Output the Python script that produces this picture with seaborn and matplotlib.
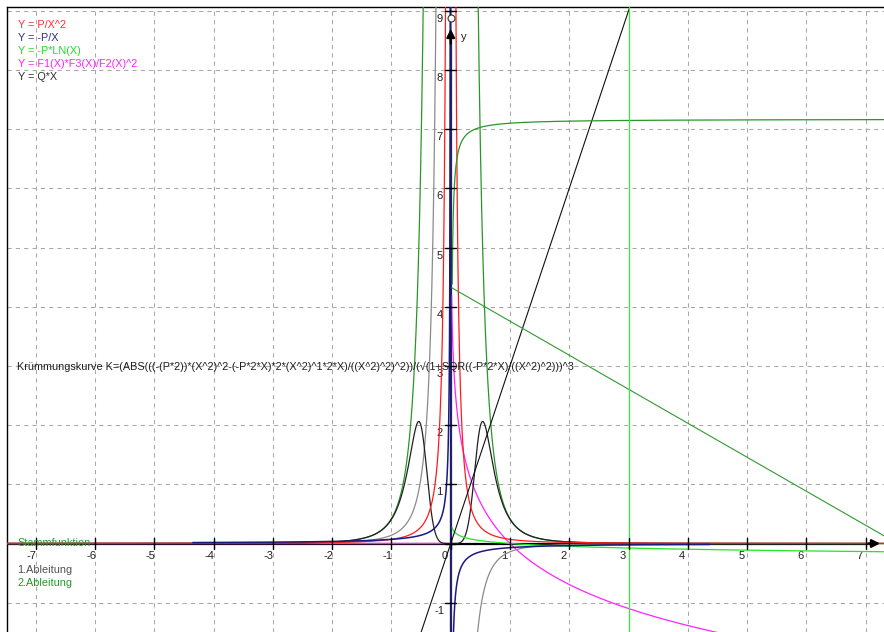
import numpy as np
import pandas as pd
import matplotlib
matplotlib.use("Agg")
import matplotlib.pyplot as plt
import seaborn as sns

# ---- parameters / values ----
P = 0.07            # parameter P
Q = 3.0             # parameter Q
C_STAMM = 7.17      # integration constant of the plotted Stammfunktion
X_MIN, X_MAX = -7.485, 7.309
Y_MIN, Y_MAX = -1.495, 9.063
BLUE_RANGE = [-4.35, 4.37]
LIME_START = 0.02
MAGENTA_START = 0.015
STAMM_START = 0.025
DIAG_X = [0.0, 7.309]
DIAG_Y = [4.33, 0.13]
VLINE_X = 3.0
x_ticks = list(range(-7, 8))
y_ticks = list(range(-1, 10))

legend_labels = ["Y = P/X^2", "Y = -P/X", "Y = -P*LN(X)", "Y = F1(X)*F3(X)/F2(X)^2", "Y = Q*X"]
legend_colors = ["#ff3030", "#303080", "#22dd22", "#ff22ff", "#303030"]
deriv_labels = ["Stammfunktion", "1.Ableitung", "2.Ableitung"]
deriv_colors = ["#2a962a", "#505050", "#2a962a"]
formula_text = ("Krümmungskurve K=(ABS(((-(P*2))*(X^2)^2-(-P*2*X)*2*(X^2)^1*2*X)/((X^2)^2)^2))"
                "/(√(1+SQR((-P*2*X)/((X^2)^2)))^3")

# ---- figure ----
sns.set_style("white")
plt.rcParams['font.family'] = ['Liberation Sans', 'DejaVu Sans']
W, H = 884, 632
fig = plt.figure(figsize=(W / 100, H / 100), dpi=100)
ax = fig.add_axes([7 / W, 0, (W - 7) / W, (H - 7) / H])
ax.set_xlim(X_MIN, X_MAX)
ax.set_ylim(Y_MIN, Y_MAX)
for s in ["right", "bottom"]:
    ax.spines[s].set_visible(False)
for s in ["left", "top"]:
    ax.spines[s].set_visible(True)
    ax.spines[s].set_color("black")
    ax.spines[s].set_linewidth(1.0)
ax.set_xticks([])
ax.set_yticks([])

# grid
for gx in x_ticks:
    if gx != 0:
        ax.axvline(gx, color="#a8a8a8", lw=0.75, dashes=(4, 4), zorder=0)
for gy in y_ticks:
    if gy != 0:
        ax.axhline(gy, color="#a8a8a8", lw=0.75, dashes=(4, 4), zorder=0)

# axes lines
ax.plot([X_MIN, 7.1], [0, 0], color="black", lw=1.6, zorder=1)
ax.plot([0, 0], [Y_MIN, 8.6], color="black", lw=1.6, zorder=1)
ax.annotate("", xy=(7.29, 0), xytext=(7.0, 0),
            arrowprops=dict(arrowstyle="-|>", color="black", lw=1.6, mutation_scale=12), zorder=6)
ax.annotate("", xy=(0, 8.74), xytext=(0, 8.4),
            arrowprops=dict(arrowstyle="-|>", color="black", lw=1.6, mutation_scale=12), zorder=6)
ax.plot([0], [8.87], marker="o", ms=5, mfc="white", mec="#333333", mew=0.8, zorder=7)
ax.text(0.17, 8.56, "y", fontsize=8, color="#202020", va="center", ha="left")

# tick marks
for t in x_ticks:
    ax.plot([t, t], [-0.1, 0.1], color="black", lw=1.0, zorder=6)
for t in y_ticks:
    ax.plot([-0.09, 0.09], [t, t], color="black", lw=1.0, zorder=6)

# tick labels
px = 59.28
py = 59.2
for t in x_ticks:
    ax.text(t - 9 / px, -12 / py, str(t), fontsize=8, color="#202020", ha="left", va="center")
for t in y_ticks:
    if t != 0:
        ax.text(-11 / px, t - 8 / py, str(t), fontsize=8, color="#202020", ha="center", va="center")

# ---- curves ----
x = np.linspace(X_MIN, X_MAX, 24000)
x = x[np.abs(x) > 1e-6]
LIM = 60.0

def draw(xv, yv, color, lw=0.9, z=3):
    df = pd.DataFrame({"x": xv, "y": np.clip(yv, -LIM, LIM)})
    sns.lineplot(data=df, x="x", y="y", ax=ax, color=color, lw=lw, estimator=None,
                 sort=False, errorbar=None, zorder=z)

# magenta -ln(x), and 0 for x<0
xn = x[x < 0]
draw(xn, np.zeros_like(xn), "#ff22ff", lw=1.0)
xm = x[x >= MAGENTA_START]
draw(xm, -np.log(xm), "#ff22ff", lw=0.9)

# 2nd derivative 6P/x^4 (green)
draw(x, 6 * P / x ** 4, "#2a962a", lw=0.9)
# 1st derivative -2P/x^3 (gray)
draw(x, -2 * P / x ** 3, "#8a8a8a", lw=0.9)
# curvature
y1 = -2 * P / x ** 3
y2 = 6 * P / x ** 4
K = np.abs(y2) / (1 + y1 ** 2) ** 1.5
draw(x, K, "#202020", lw=0.9)
# red P/x^2
draw(x, P / x ** 2, "#ff1a1a", lw=0.9)
# navy -P/x
xb = x[(x >= BLUE_RANGE[0]) & (x <= BLUE_RANGE[1])]
draw(xb, -P / xb, "#1a1a80", lw=1.1, z=4)
# lime -P ln x
xl = x[x >= LIME_START]
draw(xl, -P * np.log(xl), "#22e622", lw=0.9)
# black Q*X
draw(x, Q * x, "#101010", lw=0.8)
# Stammfunktion C - P/x
xs = x[x >= STAMM_START]
draw(xs, C_STAMM - P / xs, "#2a962a", lw=0.9)
# diagonal green line
draw(np.array(DIAG_X), np.array(DIAG_Y), "#2f9a2f", lw=0.8)
# vertical lime line
ax.axvline(VLINE_X, color="#33ee33", lw=0.9, zorder=3)

ax.set_xlabel("")
ax.set_ylabel("")
ax.set_xlim(X_MIN, X_MAX)
ax.set_ylim(Y_MIN, Y_MAX)

# ---- texts ----
def ftext(pxx, pyy, s, color, **kw):
    fig.text(pxx / W, 1 - pyy / H, s, color=color, fontsize=7.8, va="center", ha="left", **kw)

for i, (lab, col) in enumerate(zip(legend_labels, legend_colors)):
    ftext(18, 25 + 13 * i, lab, col)
ftext(17, 543, deriv_labels[0], deriv_colors[0])
ftext(17, 570, deriv_labels[1], deriv_colors[1])
ftext(17, 583, deriv_labels[2], deriv_colors[2])
ftext(17, 367, formula_text, "#202020")

fig.savefig("out.png", dpi=100)
